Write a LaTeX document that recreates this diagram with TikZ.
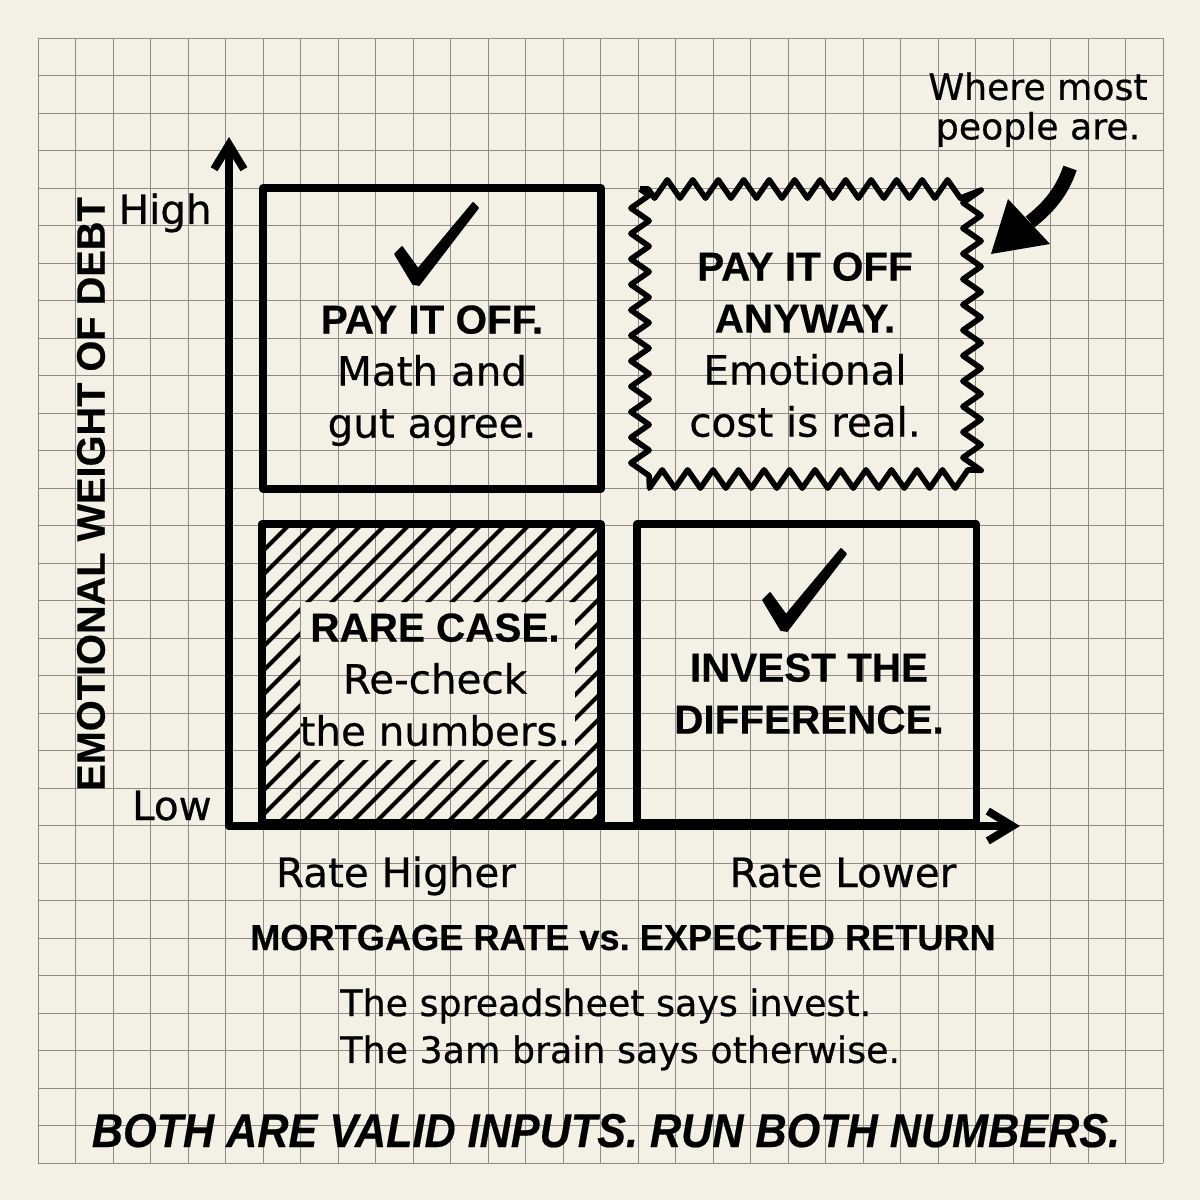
\documentclass[tikz,border=0pt]{standalone}
\usepackage{fontspec}
\usepackage{graphicx}
\setmainfont{DejaVu Sans}[FakeBold=0.6]
\newfontfamily\headfont{Liberation Sans}[FakeBold=0.4]
\usetikzlibrary{arrows.meta,decorations.pathmorphing}

\definecolor{paper}{HTML}{F3F1E6}
\definecolor{gridgray}{HTML}{8E8C84}

\tikzset{
  gridline/.style={draw=gridgray, line width=0.55pt},
  quadbox/.style={line width=4pt, line join=round},
  wavybox/.style={line width=3.2pt, line join=round, decorate,
    decoration={zigzag, segment length=14.5pt, amplitude=5.2pt}},
  axisline/.style={line width=4.5pt, line cap=round, line join=round},
  hatchline/.style={line width=2.3pt, line cap=round},
  boxtext/.style={align=center, inner sep=0pt, anchor=north,
    font=\fontsize{23}{29.6}\selectfont},
  boxhead/.style={boxtext, font=\fontsize{23}{29.6}\selectfont\headfont\bfseries},
  plaintext/.style={inner sep=0pt, anchor=base, font=\fontsize{23}{28}\selectfont},
  tickmark/.pic={
    \filldraw[line width=1pt, line join=round]
      (-22,-28) -- (-15,-35) -- (1,-13) -- (56,-79) -- (61,-74) -- (2,3) -- (-4,2) -- cycle;
  }
}

\begin{document}
\begin{tikzpicture}[x=0.2mm, y=-0.2mm, >={Straight Barb[length=14pt,width=17pt]}]
  \fill[paper] (0,0) rectangle (1200,1200);
  \useasboundingbox (0,0) rectangle (1200,1200);

  % grid paper
  \foreach \i in {0,...,30} {
    \draw[gridline] ({38+37.5*\i},38) -- ({38+37.5*\i},1163);
    \draw[gridline] (38,{38+37.5*\i}) -- (1163,{38+37.5*\i});
  }

  % hatching, with a hole for the text
  \begin{scope}
    \clip (262,524) -- (601,524) -- (601,823) -- (262,823) -- (262,680)
      -- (300,680) -- (300,760) -- (575,760) -- (575,602) -- (300,602)
      -- (300,680) -- (262,680) -- cycle;
    \foreach \s in {-40,-16,...,610}
      \draw[hatchline] (\s,830) -- ++(320,-320);
  \end{scope}

  \draw[quadbox] (263,188) rectangle (601,489);
  \draw[wavybox] (640,189) rectangle (972,479);
  \draw[quadbox] (262,524) rectangle (601,823);
  \draw[quadbox] (637,524) rectangle (976,823);

  \coordinate (O)    at (229,826);
  \coordinate (ytip) at (229,137);
  \coordinate (xtip) at (1020,826);
  \draw[axisline, ->] (O) -- (ytip);
  \draw[axisline, ->] (O) -- (xtip);

  \pic at (417,282) {tickmark};
  \pic at (785,628) {tickmark};

  \node[boxtext] (payoff) at (432,305) {{\headfont\bfseries PAY IT OFF.}\\Math and\\gut agree.};
  \node[boxtext] (anyway) at (805,252) {{\headfont\bfseries PAY IT OFF}\\{\headfont\bfseries ANYWAY.}\\Emotional\\cost is real.};
  \node[boxtext] (rare)   at (435,613) {{\headfont\bfseries RARE CASE.}\\Re-check\\the numbers.};
  \node[boxhead] (invest) at (809,653) {INVEST THE\\DIFFERENCE.};

  \node[plaintext, anchor=base east] (high) at (212,224) {High};
  \node[plaintext, anchor=base east] (low)  at (212,820) {Low};
  \node[plaintext] (ratehigh) at (396,887) {Rate Higher};
  \node[plaintext] (ratelow)  at (843,887) {Rate Lower};

  \node[inner sep=0pt, anchor=base, font=\fontsize{20.6}{24}\selectfont\headfont\bfseries]
    (xtitle) at (623,950) {MORTGAGE RATE vs.\ EXPECTED RETURN};
  \node[inner sep=0pt, rotate=90, font=\fontsize{22.6}{26}\selectfont\headfont\bfseries]
    (ytitle) at (91,494) {EMOTIONAL WEIGHT OF DEBT};

  \node[inner sep=0pt, anchor=north west, align=left, font=\fontsize{20.7}{26.7}\selectfont]
    (gut) at (340,988) {The spreadsheet says invest.\\The 3am brain says otherwise.};
  \node[inner sep=0pt, anchor=base, font=\fontsize{27}{30}\selectfont\headfont\bfseries\itshape]
    (moral) at (606,1147) {\scalebox{0.91}[1]{BOTH ARE VALID INPUTS. RUN BOTH NUMBERS.}};

  % callout
  \node[inner sep=0pt, anchor=north, align=center, font=\fontsize{20.6}{22.5}\selectfont]
    (most) at (1038,72) {Where most\\people are.};
  \coordinate (tail) at (1070,168);
  \coordinate (neck) at (1030,222);
  \draw[line width=8pt] (tail) .. controls (1062,192) and (1048,208) .. (neck);
  \fill[line join=round] (1008,199) -- (1050,244) -- (991,254) -- cycle;
\end{tikzpicture}
\end{document}
